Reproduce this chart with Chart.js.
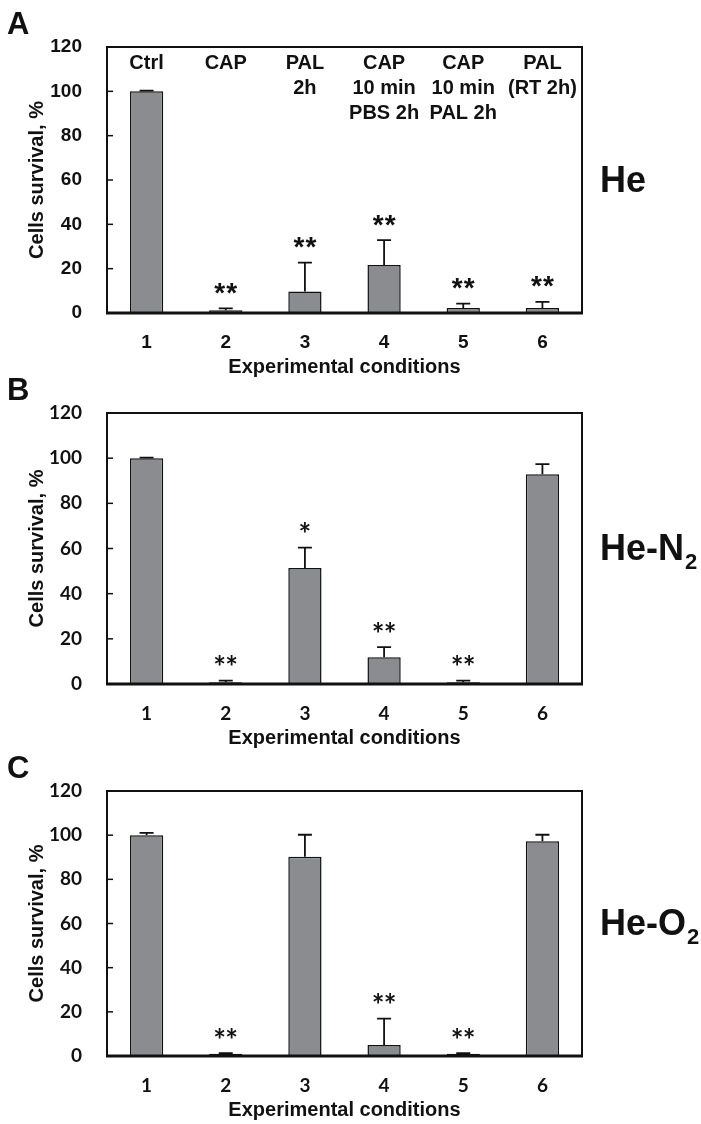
<!DOCTYPE html>
<html>
<head>
<meta charset="utf-8">
<script src="https://cdn.jsdelivr.net/npm/chart.js@4.4.1/dist/chart.umd.min.js"></script>
<style>
  html, body { margin: 0; padding: 0; background: #fff; }
  #page { position: relative; width: 701px; height: 1124px; overflow: hidden; }
  .panel { position: absolute; left: 0; width: 701px; }
</style>
</head>
<body>
<div id="page">
  <div class="panel" style="top:0px"><canvas id="chartA" width="701" height="380"></canvas></div>
  <div class="panel" style="top:370px"><canvas id="chartB" width="701" height="381"></canvas></div>
  <div class="panel" style="top:750px"><canvas id="chartC" width="701" height="373"></canvas></div>
</div>
<script>
// condition numbers on the x axis
const categories = ["1", "2", "3", "4", "5", "6"];
// condition names printed inside panel A
const conditionNames = [["Ctrl"], ["CAP"], ["PAL", "2h"], ["CAP", "10 min", "PBS 2h"], ["CAP", "10 min", "PAL 2h"], ["PAL", "(RT 2h)"]];
const yMin = 0, yMax = 120, yStep = 20;

// He
const heMeans = [100, 1.2, 9.7, 21.6, 2.3, 2.3];
const heErrors = [0.3, 0.9, 13.0, 11.3, 1.9, 2.7];
const heStars = ["", "**", "**", "**", "**", "**"];
// He-N2
const heN2Means = [100, 0.8, 51.4, 11.8, 0.8, 92.9];
const heN2Errors = [0.2, 0.7, 9.0, 4.5, 0.7, 4.5];
const heN2Stars = ["", "**", "*", "**", "**", ""];
// He-O2
const heO2Means = [100, 1.0, 90.2, 5.0, 1.0, 97.3];
const heO2Errors = [1.0, 0.3, 10.0, 11.9, 0.3, 2.9];
const heO2Stars = ["", "**", "", "**", "**", ""];

const ARIAL = "'Liberation Sans', Arial, sans-serif";
const CALIBRI = "Lato, 'Open Sans', sans-serif";

// frame, inward ticks, error bars, stars and the extra labels
const decor = {
  id: "decor",
  afterDatasetsDraw(chart, args, opts) {
    const ctx = chart.ctx;
    const area = chart.chartArea;
    const y = chart.scales.y;
    const meta = chart.getDatasetMeta(0);
    ctx.save();
    ctx.strokeStyle = "#111";
    ctx.fillStyle = "#111";

    // error bars (upper only)
    ctx.lineWidth = 1.8;
    meta.data.forEach((bar, i) => {
      const top = y.getPixelForValue(opts.means[i]);
      const end = y.getPixelForValue(opts.means[i] + opts.errors[i]);
      ctx.beginPath();
      ctx.moveTo(bar.x, top);
      ctx.lineTo(bar.x, end);
      ctx.moveTo(bar.x - 7, end);
      ctx.lineTo(bar.x + 7, end);
      ctx.stroke();
    });

    // frame
    ctx.lineWidth = 2;
    ctx.strokeRect(area.left, area.top, area.right - area.left, area.bottom - area.top);
    ctx.lineWidth = 3;
    ctx.beginPath();
    ctx.moveTo(area.left - 1, area.bottom);
    ctx.lineTo(area.right + 1, area.bottom);
    ctx.stroke();

    // inward y ticks
    ctx.lineWidth = 1.5;
    y.ticks.forEach(t => {
      const py = y.getPixelForValue(t.value);
      ctx.beginPath();
      ctx.moveTo(area.left, py);
      ctx.lineTo(area.left + 6, py);
      ctx.stroke();
    });

    // significance stars
    ctx.font = "bold " + opts.starSize + "px " + opts.starFont;
    ctx.textAlign = "center";
    ctx.textBaseline = "alphabetic";
    meta.data.forEach((bar, i) => {
      const s = opts.stars[i];
      if (!s) return;
      const cy = y.getPixelForValue(opts.means[i] + opts.errors[i]) - 20;
      const m = ctx.measureText("*");
      const base = cy + (m.actualBoundingBoxAscent - m.actualBoundingBoxDescent) / 2;
      for (let k = 0; k < s.length; k++) {
        ctx.fillText("*", bar.x + (k - (s.length - 1) / 2) * 12, base);
      }
    });

    // condition names
    if (opts.names) {
      ctx.font = "bold 20px " + ARIAL;
      ctx.textBaseline = "middle";
      meta.data.forEach((bar, i) => {
        opts.names[i].forEach((line, j) => {
          ctx.fillText(line, bar.x, area.top + 16 + j * 25);
        });
      });
    }

    // panel letter
    ctx.textAlign = "left";
    ctx.textBaseline = "middle";
    ctx.font = "bold 31px " + ARIAL;
    ctx.fillText(opts.letter, 7, area.top - 22);

    // gas label with subscript
    const gy = (area.top + area.bottom) / 2 + 2;
    ctx.font = "bold 36px " + ARIAL;
    ctx.fillText(opts.gas[0], area.right + 18, gy);
    if (opts.gas[1]) {
      const w = ctx.measureText(opts.gas[0]).width;
      ctx.font = "bold 22px " + ARIAL;
      ctx.fillText(opts.gas[1], area.right + 18 + w + 1, gy + 12);
    }
    ctx.restore();
  }
};

function makePanel(id, means, errors, stars, letter, gas, names, tickFont, starSize, plotTop) {
  return new Chart(document.getElementById(id), {
    type: "bar",
    data: {
      labels: categories,
      datasets: [{
        data: means,
        backgroundColor: "#8b8c90",
        borderColor: "#111",
        borderWidth: 1.5,
        barPercentage: 0.42,
        categoryPercentage: 1
      }]
    },
    plugins: [decor],
    options: {
      responsive: false,
      animation: false,
      layout: { padding: { top: plotTop, right: 119, bottom: 0, left: 0 } },
      plugins: {
        legend: { display: false },
        tooltip: { enabled: false },
        decor: { means, errors, stars, letter, gas, names, starFont: tickFont, starSize }
      },
      scales: {
        x: {
          grid: { display: false },
          border: { display: false },
          ticks: { color: "#111", padding: 10, font: { family: tickFont, size: 19, weight: "bold" } },
          title: { display: true, text: "Experimental conditions", color: "#111", padding: { top: 0, bottom: 1 },
                   font: { family: ARIAL, size: 20, weight: "bold" } },
          afterFit(scale) { scale.height = 67; }
        },
        y: {
          min: yMin,
          max: yMax,
          grid: { display: false },
          border: { display: false },
          ticks: { stepSize: yStep, color: "#111", padding: 17, font: { family: tickFont, size: 19, weight: "bold" } },
          title: { display: true, text: "Cells survival, %", color: "#111", padding: { top: 25, bottom: 0 },
                   font: { family: ARIAL, size: 20, weight: "bold" } },
          afterFit(scale) { scale.width = 107; }
        }
      }
    }
  });
}

makePanel("chartA", heMeans, heErrors, heStars, "A", ["He", ""], conditionNames, ARIAL, 28, 47);
makePanel("chartB", heN2Means, heN2Errors, heN2Stars, "B", ["He-N", "2"], null, CALIBRI, 30, 43);
makePanel("chartC", heO2Means, heO2Errors, heO2Stars, "C", ["He-O", "2"], null, CALIBRI, 30, 41);
</script>
</body>
</html>
